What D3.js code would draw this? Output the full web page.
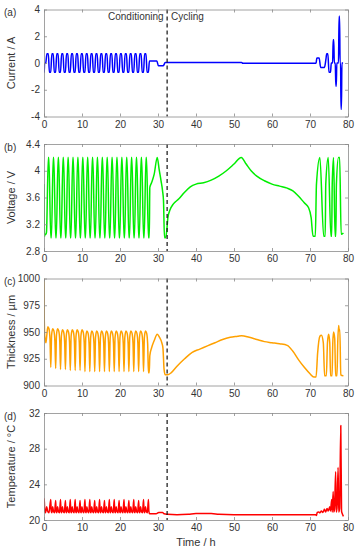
<!DOCTYPE html>
<html><head><meta charset="utf-8">
<script src="https://cdn.jsdelivr.net/npm/d3@7"></script>
<style>
html,body{margin:0;padding:0;background:#fff;}
svg{display:block;font-family:"Liberation Sans",Arial,sans-serif;}
</style></head>
<body>
<svg id="chart" width="356" height="550"></svg>
<script>
// ---------- data (time in h) ----------
const xTicks = [0,10,20,30,40,50,60,70,80];
const currentTicks = [-4,-2,0,2,4];
const voltageTicks = [2.8,3.2,3.6,4,4.4];
const thicknessTicks = [900,925,950,975,1000];
const temperatureTicks = [20,24,28,32];
const boundaryTime = 32.4;

const currentData = [
[0,0],[0.05,-0.7],[0.15,-0.05],[0.45,0],[0.78,0.7],[1.14,0.7],[1.42,-0.7],[1.77,-0.7],
[2.07,0.7],[2.43,0.7],[2.71,-0.7],[3.06,-0.7],
[3.35,0.7],[3.71,0.7],[3.99,-0.7],[4.34,-0.7],
[4.64,0.7],[5.00,0.7],[5.28,-0.7],[5.63,-0.7],
[5.92,0.7],[6.28,0.7],[6.56,-0.7],[6.91,-0.7],
[7.21,0.7],[7.57,0.7],[7.85,-0.7],[8.20,-0.7],
[8.49,0.7],[8.85,0.7],[9.13,-0.7],[9.48,-0.7],
[9.78,0.7],[10.14,0.7],[10.42,-0.7],[10.77,-0.7],
[11.06,0.7],[11.42,0.7],[11.70,-0.7],[12.05,-0.7],
[12.35,0.7],[12.71,0.7],[12.99,-0.7],[13.34,-0.7],
[13.63,0.7],[13.99,0.7],[14.27,-0.7],[14.62,-0.7],
[14.92,0.7],[15.28,0.7],[15.56,-0.7],[15.91,-0.7],
[16.20,0.7],[16.56,0.7],[16.84,-0.7],[17.19,-0.7],
[17.49,0.7],[17.85,0.7],[18.13,-0.7],[18.48,-0.7],
[18.77,0.7],[19.13,0.7],[19.41,-0.7],[19.76,-0.7],
[20.06,0.7],[20.42,0.7],[20.70,-0.7],[21.05,-0.7],
[21.34,0.7],[21.70,0.7],[21.98,-0.7],[22.33,-0.7],
[22.63,0.7],[22.99,0.7],[23.27,-0.7],[23.62,-0.7],
[23.91,0.7],[24.27,0.7],[24.55,-0.7],[24.90,-0.7],
[25.20,0.7],[25.56,0.7],[25.84,-0.7],[26.19,-0.7],
[26.48,0.7],[26.84,0.7],[27.12,-0.7],[27.47,-0.7],
[27.75,0.15],[29.7,0.15],[30.1,-0.2],[31.4,-0.2],[31.9,0.03],[52.0,0.03],[52.3,-0.02],
[71.6,-0.02],[71.8,0.38],[72.4,0.38],[72.8,-0.33],[73.8,-0.33],[74.2,0.3],[74.4,0.7],[74.7,0.7],
[75.0,-0.7],[75.4,-0.7],[75.6,0],[75.95,0],[76.1,1.73],[76.25,1.73],[76.4,0],[76.65,0],
[76.8,-1.73],[76.92,-1.73],[77.05,0],[77.5,0],[77.65,3.5],[77.78,3.5],[77.92,0],[78.05,0],
[78.15,-3.45],[78.27,-3.45],[78.4,0],[78.7,0]
];

const voltageData = [
[0,3.8],[0.12,3.02],[0.3,3.05],[0.55,3.05],[0.66,3.08],[1.14,4.2],[1.28,4.2],[1.78,3.0],
[1.95,3.0],[2.43,4.2],[2.57,4.2],[3.07,3.0],
[3.23,3.0],[3.71,4.2],[3.85,4.2],[4.35,3.0],
[4.52,3.0],[5.00,4.2],[5.14,4.2],[5.64,3.0],
[5.80,3.0],[6.28,4.2],[6.42,4.2],[6.92,3.0],
[7.09,3.0],[7.57,4.2],[7.71,4.2],[8.21,3.0],
[8.37,3.0],[8.85,4.2],[8.99,4.2],[9.49,3.0],
[9.66,3.0],[10.14,4.2],[10.28,4.2],[10.78,3.0],
[10.94,3.0],[11.42,4.2],[11.56,4.2],[12.06,3.0],
[12.23,3.0],[12.71,4.2],[12.85,4.2],[13.35,3.0],
[13.51,3.0],[13.99,4.2],[14.13,4.2],[14.63,3.0],
[14.80,3.0],[15.28,4.2],[15.42,4.2],[15.92,3.0],
[16.08,3.0],[16.56,4.2],[16.70,4.2],[17.20,3.0],
[17.37,3.0],[17.85,4.2],[17.99,4.2],[18.49,3.0],
[18.65,3.0],[19.13,4.2],[19.27,4.2],[19.77,3.0],
[19.94,3.0],[20.42,4.2],[20.56,4.2],[21.06,3.0],
[21.22,3.0],[21.70,4.2],[21.84,4.2],[22.34,3.0],
[22.51,3.0],[22.99,4.2],[23.13,4.2],[23.63,3.0],
[23.79,3.0],[24.27,4.2],[24.41,4.2],[24.91,3.0],
[25.08,3.0],[25.56,4.2],[25.70,4.2],[26.20,3.0],
[26.36,3.0],[26.84,4.2],[26.98,4.2],[27.48,3.0],
[27.7,3.0],[27.85,3.75],[28.3,3.82],[29.0,3.95],[29.8,4.2],[30.3,4.02],[30.8,3.85],[31.2,3.7],
[31.45,3.55],[31.7,3.0],[32.0,3.0],[32.3,3.1],[32.6,3.3],[33.2,3.42],[34.0,3.5],[35.5,3.58],
[37.0,3.68],[38.5,3.76],[40.0,3.8],[42.0,3.82],[44.0,3.86],[46.0,3.92],[48.0,4.0],[50.0,4.1],
[51.9,4.2],[53.2,4.1],[54.5,4.0],[56.0,3.92],[58.0,3.85],[60.0,3.8],[62.0,3.77],[64.0,3.74],
[65.5,3.7],[67.0,3.62],[68.5,3.52],[69.6,3.45],[70.3,3.3],[70.8,3.02],[71.4,3.02],[71.7,3.8],
[72.6,4.2],[73.6,3.02],[74.0,3.02],[74.15,3.8],[74.8,4.2],[75.5,3.02],[75.7,3.02],[75.85,3.8],
[76.2,4.2],[76.6,3.02],[76.8,3.02],[76.95,3.8],[77.5,4.2],[77.8,4.2],[78.2,3.05],[78.8,3.07]
];

const thicknessData = [
[0,1000],[0.08,960],[0.2,946],[0.5,940],[0.71,946],[1.01,955],[1.31,953],[1.58,943],[1.78,917],
[2.00,947],[2.30,953],[2.60,951],[2.87,941],[3.07,916],
[3.28,947],[3.58,953],[3.88,951],[4.15,941],[4.35,915],
[4.57,946],[4.87,952],[5.17,950],[5.44,940],[5.64,915],
[5.85,946],[6.15,952],[6.45,950],[6.72,940],[6.92,914],
[7.14,946],[7.44,952],[7.74,950],[8.01,940],[8.21,914],
[8.42,946],[8.72,952],[9.02,950],[9.29,940],[9.49,914],
[9.71,946],[10.01,952],[10.31,950],[10.58,940],[10.78,913],
[10.99,945],[11.29,951],[11.59,949],[11.86,939],[12.06,913],
[12.28,945],[12.58,951],[12.88,949],[13.15,939],[13.35,913],
[13.56,945],[13.86,951],[14.16,949],[14.43,939],[14.63,913],
[14.85,945],[15.15,951],[15.45,949],[15.72,939],[15.92,913],
[16.13,945],[16.43,951],[16.73,949],[17.00,939],[17.20,913],
[17.42,945],[17.72,951],[18.02,949],[18.29,939],[18.49,913],
[18.70,945],[19.00,951],[19.30,949],[19.57,939],[19.77,913],
[19.99,945],[20.29,951],[20.59,949],[20.86,939],[21.06,913],
[21.27,945],[21.57,951],[21.87,949],[22.14,939],[22.34,913],
[22.56,945],[22.86,951],[23.16,949],[23.43,939],[23.63,913],
[23.84,945],[24.14,951],[24.44,949],[24.71,939],[24.91,913],
[25.13,945],[25.43,951],[25.73,949],[26.00,939],[26.20,913],
[26.41,945],[26.71,951],[27.01,949],[27.28,939],[27.48,912],
[27.7,912],[27.85,928],[28.3,935],[29.0,942],[29.8,948],[30.4,945],[31.0,940],[31.3,935],
[31.6,915],[31.9,910],[32.5,910],[33.5,912],[35.0,918],[37.0,925],[39.0,931],[41.0,934],
[43.0,937],[45.0,940],[47.0,943],[49.0,945],[51.0,946],[52.0,946.5],[54.0,945],[56.0,943],
[58.0,941],[60.0,940],[62.0,939],[64.0,937.5],[65.5,932],[67.0,924],[68.5,917],[70.0,911],
[71.0,908],[71.6,908],[72.0,930],[72.6,946],[73.0,947],[73.5,940],[73.85,909],[74.3,909],
[74.6,940],[74.9,948],[75.2,940],[75.4,909],[75.8,909],[76.0,940],[76.2,950],[76.5,944],
[76.75,909],[77.1,909],[77.3,940],[77.55,956],[77.7,951],[77.85,952],[78.1,910],[78.8,909]
];

const temperatureData = [
[0,21.8],[0.05,22.4],[0.2,21.0],[0.4,20.8],[0.7,21.5],[0.95,21.0],[1.3,20.8],
[1.78,22.3],[1.90,21.0],[2.08,20.8],[2.28,21.5],[2.48,21.0],[2.78,20.8],
[3.07,22.2],[3.19,21.0],[3.37,20.8],[3.57,21.5],[3.77,21.0],[4.07,20.8],
[4.35,22.3],[4.47,21.0],[4.65,20.8],[4.85,21.5],[5.05,21.0],[5.35,20.8],
[5.64,22.2],[5.76,21.0],[5.94,20.8],[6.14,21.5],[6.34,21.0],[6.64,20.8],
[6.92,22.3],[7.04,21.0],[7.22,20.8],[7.42,21.5],[7.62,21.0],[7.92,20.8],
[8.21,22.3],[8.33,21.0],[8.51,20.8],[8.71,21.5],[8.91,21.0],[9.21,20.8],
[9.49,22.2],[9.61,21.0],[9.79,20.8],[9.99,21.5],[10.19,21.0],[10.49,20.8],
[10.78,22.3],[10.90,21.0],[11.08,20.8],[11.28,21.5],[11.48,21.0],[11.78,20.8],
[12.06,22.3],[12.18,21.0],[12.36,20.8],[12.56,21.5],[12.76,21.0],[13.06,20.8],
[13.35,22.2],[13.47,21.0],[13.65,20.8],[13.85,21.5],[14.05,21.0],[14.35,20.8],
[14.63,22.3],[14.75,21.0],[14.93,20.8],[15.13,21.5],[15.33,21.0],[15.63,20.8],
[15.92,22.2],[16.04,21.0],[16.22,20.8],[16.42,21.5],[16.62,21.0],[16.92,20.8],
[17.20,22.3],[17.32,21.0],[17.50,20.8],[17.70,21.5],[17.90,21.0],[18.20,20.8],
[18.49,22.3],[18.61,21.0],[18.79,20.8],[18.99,21.5],[19.19,21.0],[19.49,20.8],
[19.77,22.2],[19.89,21.0],[20.07,20.8],[20.27,21.5],[20.47,21.0],[20.77,20.8],
[21.06,22.3],[21.18,21.0],[21.36,20.8],[21.56,21.5],[21.76,21.0],[22.06,20.8],
[22.34,22.2],[22.46,21.0],[22.64,20.8],[22.84,21.5],[23.04,21.0],[23.34,20.8],
[23.63,22.3],[23.75,21.0],[23.93,20.8],[24.13,21.5],[24.33,21.0],[24.63,20.8],
[24.91,22.2],[25.03,21.0],[25.21,20.8],[25.41,21.5],[25.61,21.0],[25.91,20.8],
[26.20,22.3],[26.32,21.0],[26.50,20.8],[26.70,21.5],[26.90,21.0],[27.20,20.8],
[27.48,22.3],[27.60,21.0],[27.78,20.7],
[28.0,20.7],[29.5,20.7],[30.2,20.85],[31.2,20.85],[31.6,20.7],[32.5,20.65],[35,20.6],[38,20.65],
[40,20.72],[44,20.72],[46,20.65],[50,20.6],[71.5,20.6],[71.7,20.5],[71.9,20.85],[72.3,20.9],
[72.6,20.8],[73.0,21.0],[73.4,20.85],[73.8,21.2],[74.1,20.9],[74.5,21.3],[74.8,21.0],[75.2,21.5],
[75.4,21.0],[75.7,22.3],[75.85,20.9],[76.1,23.2],[76.25,20.9],[76.45,21.2],[76.75,25.4],[76.9,20.9],
[77.1,21.3],[77.4,25.9],[77.55,20.9],[77.8,21.3],[78.1,30.6],[78.3,21.0],[78.5,20.7],[78.8,20.4]
];

// ---------- layout ----------
const svg = d3.select("#chart");
svg.append("rect").attr("width",356).attr("height",550).attr("fill","#fff");
const left = 44, right = 348;
const x = d3.scaleLinear().domain([0,80]).range([left,right]);

const panels = [
  {tag:"(a)", label:"Current / A", data:currentData, color:"#0000ff", domain:[-4,4], ticks:currentTicks, top:9.5, bottom:116.5, fmt:d=>d},
  {tag:"(b)", label:"Voltage / V", data:voltageData, color:"#00ee00", domain:[2.8,4.4], ticks:voltageTicks, top:144, bottom:251, fmt:d=>d},
  {tag:"(c)", label:"Thickness / \u00b5m", data:thicknessData, color:"#ffa100", domain:[900,1000], ticks:thicknessTicks, top:278.5, bottom:385.5, fmt:d=>d},
  {tag:"(d)", label:"Temperature / \u00b0C", data:temperatureData, color:"#ff0000", domain:[20,32], ticks:temperatureTicks, top:413, bottom:520, fmt:d=>d}
];

const axisColor = "#8a8a8a", textColor = "#333";

panels.forEach((p,i) => {
  const y = d3.scaleLinear().domain(p.domain).range([p.bottom,p.top]);
  const g = svg.append("g");
  const clipId = "clip"+i;
  g.append("clipPath").attr("id",clipId).append("rect")
    .attr("x",left).attr("y",p.top).attr("width",right-left).attr("height",p.bottom-p.top);

  // data line
  g.append("path").datum(p.data)
    .attr("clip-path",`url(#${clipId})`)
    .attr("fill","none").attr("stroke",p.color).attr("stroke-width",1.5)
    .attr("stroke-linejoin","round")
    .attr("d", d3.line().x(d=>x(d[0])).y(d=>y(d[1])).curve(d3.curveMonotoneX));

  // dashed boundary
  g.append("line")
    .attr("x1",x(boundaryTime)).attr("x2",x(boundaryTime))
    .attr("y1",p.top).attr("y2",p.bottom)
    .attr("stroke","#111").attr("stroke-width",1.2).attr("stroke-dasharray","4,3");

  // axes (inward ticks, all four sides)
  const ax = [
    g.append("g").attr("transform",`translate(0,${p.bottom})`).call(d3.axisBottom(x).tickValues(xTicks).tickSizeInner(-3).tickSizeOuter(0).tickPadding(4)),
    g.append("g").attr("transform",`translate(0,${p.top})`).call(d3.axisTop(x).tickValues(xTicks).tickSizeInner(-3).tickSizeOuter(0).tickFormat("")),
    g.append("g").attr("transform",`translate(${left},0)`).call(d3.axisLeft(y).tickValues(p.ticks).tickSizeInner(-3).tickSizeOuter(0).tickPadding(4).tickFormat(p.fmt)),
    g.append("g").attr("transform",`translate(${right},0)`).call(d3.axisRight(y).tickValues(p.ticks).tickSizeInner(-3).tickSizeOuter(0).tickFormat(""))
  ];
  ax.forEach(a => {
    a.select(".domain").attr("stroke",axisColor).attr("stroke-width",0.8);
    a.selectAll(".tick line").attr("stroke",axisColor).attr("stroke-width",0.8);
    a.selectAll(".tick text").attr("fill",textColor).attr("font-size",10).attr("font-family","Liberation Sans, Arial, sans-serif");
  });

  // panel tag
  svg.append("text").attr("x",4).attr("y",p.top+6.5).attr("font-size",10).attr("fill",textColor).text(p.tag);
  // y label
  svg.append("text").attr("transform",`translate(15,${(p.top+p.bottom)/2}) rotate(-90)`)
    .attr("text-anchor","middle").attr("font-size",11).attr("fill",textColor).text(p.label);
});

// annotations
svg.append("text").attr("x",x(boundaryTime)-3.5).attr("y",20).attr("text-anchor","end")
  .attr("font-size",10).attr("fill",textColor).text("Conditioning");
svg.append("text").attr("x",x(boundaryTime)+4).attr("y",20).attr("text-anchor","start")
  .attr("font-size",10).attr("fill",textColor).text("Cycling");

// x label
svg.append("text").attr("x",(left+right)/2).attr("y",546).attr("text-anchor","middle")
  .attr("font-size",11).attr("fill",textColor).text("Time / h");
</script>
</body></html>
